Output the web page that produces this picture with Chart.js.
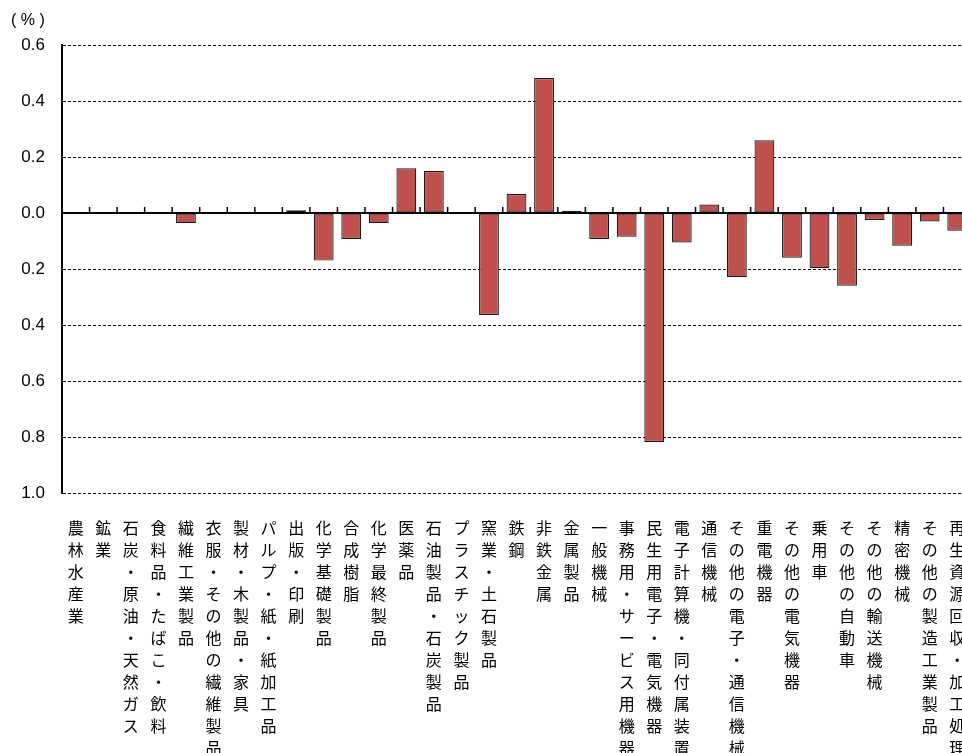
<!DOCTYPE html>
<html><head><meta charset="utf-8">
<script src="https://cdn.jsdelivr.net/npm/chart.js@4/dist/chart.umd.min.js"></script>
<style>
html,body{margin:0;padding:0;background:#fff;overflow:hidden;}
#wrap{position:absolute;left:0;top:0;width:980px;height:790px;}
</style></head>
<body>
<div id="wrap"><canvas id="c" width="980" height="790"></canvas></div>
<script>
const categories = ["農林水産業","鉱業","石炭・原油・天然ガス","食料品・たばこ・飲料","繊維工業製品","衣服・その他の繊維製品","製材・木製品・家具","パルプ・紙・紙加工品","出版・印刷","化学基礎製品","合成樹脂","化学最終製品","医薬品","石油製品・石炭製品","プラスチック製品","窯業・土石製品","鉄鋼","非鉄金属","金属製品","一般機械","事務用・サービス用機器","民生用電子・電気機器","電子計算機・同付属装置","通信機械","その他の電子・通信機械","重電機器","その他の電気機器","乗用車","その他の自動車","その他の輸送機械","精密機械","その他の製造工業製品","再生資源回収・加工処理"];
const values = [-0.003,-0.003,-0.003,-0.003,-0.036,-0.003,0.003,0.003,0.01,-0.17,-0.093,-0.036,0.16,0.15,-0.003,-0.364,0.068,0.482,0.008,-0.093,-0.085,-0.818,-0.105,0.03,-0.229,0.26,-0.16,-0.197,-0.26,-0.025,-0.117,-0.03,-0.063];
const yTicks = [0.6,0.4,0.2,0.0,-0.2,-0.4,-0.6,-0.8,-1.0];
const unitLabel = "( % )";

const zeroPlugin = {
  id:'zeroLine',
  afterDatasetsDraw(chart){
    const {ctx, chartArea, scales} = chart;
    const x = scales.x, y = scales.y;
    const y0 = y.getPixelForValue(0);
    ctx.save();
    ctx.strokeStyle = '#000';
    ctx.lineWidth = 2;
    ctx.beginPath();
    ctx.moveTo(chartArea.left, y0);
    ctx.lineTo(chartArea.right, y0);
    ctx.stroke();
    ctx.lineWidth = 1.5;
    for (let i = 1; i < categories.length; i++) {
      const bx = (x.getPixelForValue(i-1) + x.getPixelForValue(i)) / 2;
      ctx.beginPath();
      ctx.moveTo(bx, y0);
      ctx.lineTo(bx, y0 - 6);
      ctx.stroke();
    }
    ctx.fillStyle = '#000';
    ctx.font = '16px "Liberation Sans", Arial';
    ctx.textAlign = 'left';
    ctx.textBaseline = 'middle';
    ctx.fillText(unitLabel, chartArea.left - 51, chartArea.top - 24);
    ctx.restore();
  }
};

new Chart(document.getElementById('c'), {
  type:'bar',
  data:{
    labels: categories.map(s => s.split('')),
    datasets:[{
      data: values,
      backgroundColor:'#C0504D',
      borderColor:'#1a1a1a',
      borderWidth:1.2,
      borderSkipped:false,
      categoryPercentage:1,
      barPercentage:0.72
    }]
  },
  options:{
    responsive:false,
    animation:false,
    devicePixelRatio:1,
    layout:{padding:{left:0,top:45,right:9,bottom:0}},
    plugins:{legend:{display:false},tooltip:{enabled:false},title:{display:false}},
    scales:{
      x:{
        grid:{display:false,drawTicks:false},
        border:{display:false},
        ticks:{
          autoSkip:false,maxRotation:0,minRotation:0,padding:24,color:'#000',
          font:{family:'"Noto Sans CJK JP"',size:16,lineHeight:'22px'}
        },
        afterFit(scale){ scale.height = 790 - 493; scale.paddingLeft = 0; scale.paddingRight = 0; }
      },
      y:{
        min:-1.0,max:0.6,
        afterBuildTicks(scale){ scale.ticks = yTicks.map(v => ({value:v})); },
        grid:{color:'#000',lineWidth:1,drawTicks:false},
        border:{display:true,color:'#000',width:2,dash:[3,2]},
        ticks:{
          padding:17,color:'#000',
          font:{family:'"Liberation Sans", Arial',size:17},
          callback:(v)=>Math.abs(v).toFixed(1)
        },
        afterFit(scale){ scale.width = 62; scale.paddingTop = 0; scale.paddingBottom = 0; }
      }
    }
  },
  plugins:[zeroPlugin]
});
</script>
</body></html>
